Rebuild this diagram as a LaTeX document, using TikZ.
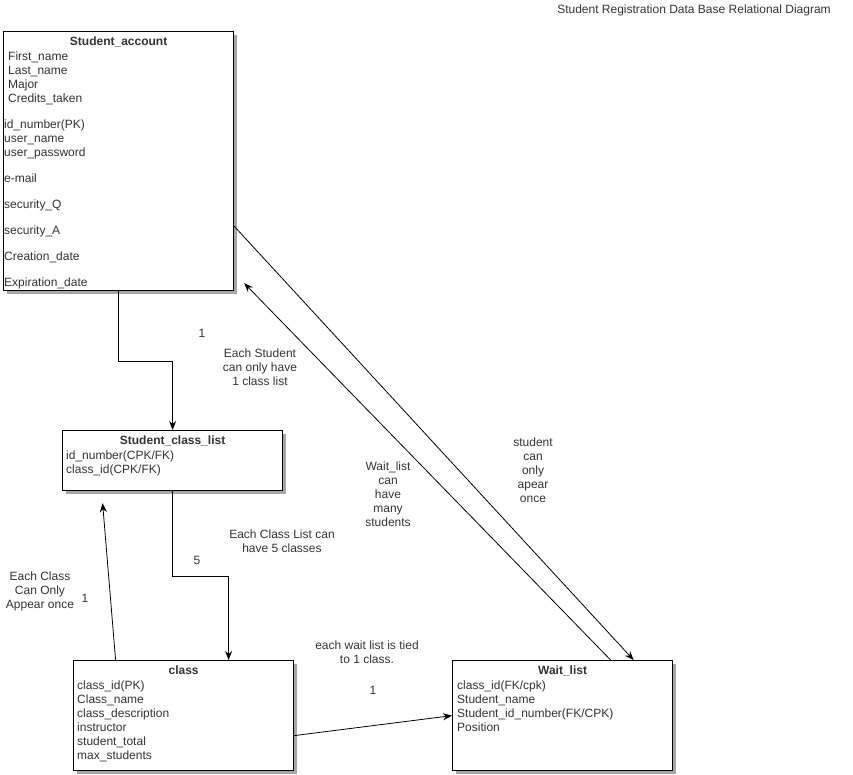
\documentclass[tikz,border=0pt]{standalone}
\usepackage{fontspec}
\setmainfont{Liberation Sans}
\usepackage{xcolor}
\usepackage{tikz}
\usetikzlibrary{arrows.meta,positioning,shadows,calc}
\definecolor{inkgray}{HTML}{333333}
\definecolor{shadowgray}{HTML}{A6A6A6}

\begin{document}
\begin{tikzpicture}[
  x=1pt, y=-1pt,
  font=\fontsize{12}{14}\selectfont,
  entity/.style={rectangle, draw=black, line width=1.2pt, fill=white, anchor=north west, inner sep=0pt,
    drop shadow={shadow xshift=3pt, shadow yshift=-3pt, fill=shadowgray, opacity=1}},
  title/.style={font=\fontsize{12}{14}\selectfont\bfseries, text=inkgray, anchor=north, inner sep=0pt},
  fields/.style={align=left, text=inkgray, anchor=north west, inner sep=0pt},
  note/.style={align=center, text=inkgray, inner sep=0pt},
  arrow/.style={-{Stealth[length=9pt, width=7pt]}, line width=0.8pt, draw=black}
]
  \useasboundingbox (0,0) rectangle (853,774);

  % entities
  \node[entity, minimum width=230pt, minimum height=259pt] (account) at (3,31) {};
  \node[entity, minimum width=220pt, minimum height=60pt] (classlist) at (62,430) {};
  \node[entity, minimum width=220pt, minimum height=110pt] (class) at (73,660) {};
  \node[entity, minimum width=220pt, minimum height=110pt] (waitlist) at (452,660) {};

  \node[title] (accountT) at ([yshift=-6pt]account.north) {Student\_account};
  \node[fields] (accountF) at ([xshift=1pt, yshift=-20.5pt]account.north west)
    {\hspace*{4pt}First\_name\\ \hspace*{4pt}Last\_name\\ \hspace*{4pt}Major\\ \hspace*{4pt}Credits\_taken\\[12pt]
     id\_number(PK)\\ user\_name\\ user\_password\\[12pt]
     e-mail\\[12pt] security\_Q\\[12pt] security\_A\\[12pt] Creation\_date\\[12pt] Expiration\_date};

  \node[title] (classlistT) at ([yshift=-6pt]classlist.north) {Student\_class\_list};
  \node[fields] (classlistF) at ([xshift=4pt, yshift=-20.5pt]classlist.north west)
    {id\_number(CPK/FK)\\ class\_id(CPK/FK)};

  \node[title] (classT) at ([yshift=-6pt]class.north) {class};
  \node[fields] (classF) at ([xshift=4pt, yshift=-20.5pt]class.north west)
    {class\_id(PK)\\ Class\_name\\ class\_description\\ instructor\\ student\_total\\ max\_students};

  \node[title] (waitlistT) at ([yshift=-6pt]waitlist.north) {Wait\_list};
  \node[fields] (waitlistF) at ([xshift=5pt, yshift=-20.5pt]waitlist.north west)
    {class\_id(FK/cpk)\\ Student\_name\\ Student\_id\_number(FK/CPK)\\ Position};

  % heading
  \node[note] (heading) at (694,10) {Student Registration Data Base Relational Diagram};

  % connectors
  \draw[arrow] (account.south) -- ++(0,70) -| (classlist.north);
  \draw[arrow] (classlist.south) -- ++(0,85) -| ([xshift=45pt]class.north);
  \draw[arrow] ([xshift=-68pt]class.north) -- ([xshift=-70pt, yshift=-12pt]classlist.south);
  \draw[arrow] ([yshift=-20pt]class.east) -- (waitlist.west);
  \draw[arrow] ([yshift=65pt]account.south east) -- ([xshift=71pt]waitlist.north);
  \draw[arrow] ([xshift=48pt]waitlist.north) -- ([xshift=10pt, yshift=8pt]account.south east);

  % cardinalities and notes
  \node[note] (oneA) at (202,333) {1};
  \node[note] (eachStudent) at (260,367) {Each Student\\ can only have\\ 1 class list};
  \node[note] (five) at (197,560) {5};
  \node[note] (eachList) at (282,541) {Each Class List can\\ have 5 classes};
  \node[note] (oneB) at (85,598) {1};
  \node[note] (eachClass) at (40,591) {Each Class\\ Can Only\\ Appear once};
  \node[note] (eachWait) at (367,652) {each wait list is tied\\ to 1 class.};
  \node[note] (oneC) at (373,690) {1};
  \node[note] (manyStudents) at (388,494) {Wait\_list\\ can\\ have\\ many\\ students};
  \node[note] (onceStudent) at (533,470) {student\\ can\\ only\\ apear\\ once};
\end{tikzpicture}
\end{document}
